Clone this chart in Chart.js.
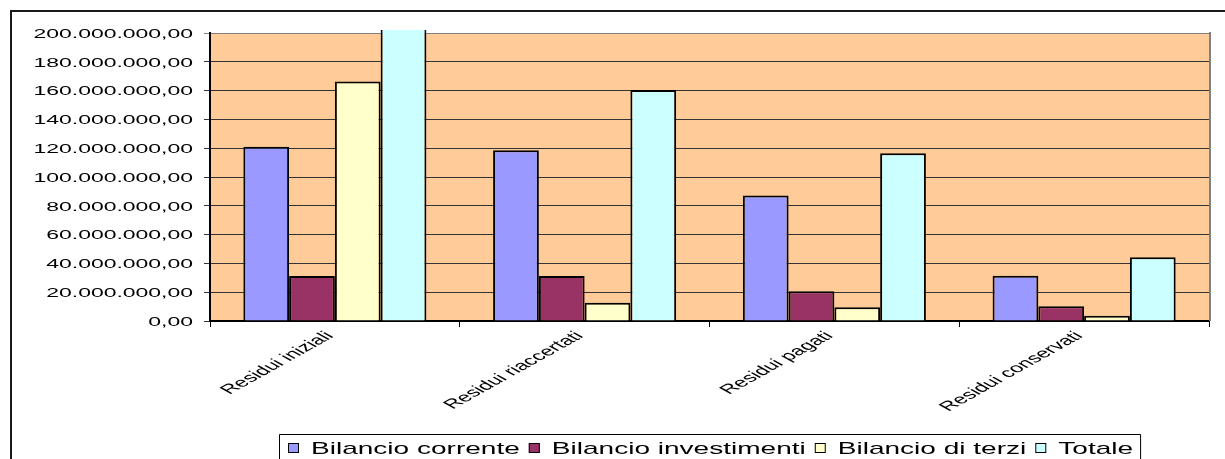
<!DOCTYPE html>
<html lang="it">
<head>
<meta charset="utf-8">
<title>Residui</title>
<script src="https://cdn.jsdelivr.net/npm/chart.js@4.4.1/dist/chart.umd.min.js"></script>
<style>
  html, body { margin: 0; padding: 0; background: #fff; }
  #wrap { position: relative; width: 1225px; height: 459px; overflow: hidden; }
  canvas { display: block; }
</style>
</head>
<body>
<div id="wrap"><canvas id="chart" width="1225" height="459"></canvas></div>
<script>
// Categories and series values
const categories = ['Residui iniziali', 'Residui riaccertati', 'Residui pagati', 'Residui conservati'];
const seriesNames = ['Bilancio corrente', 'Bilancio investimenti', 'Bilancio di terzi', 'Totale'];
const bilancioCorrente     = [121000000, 118600000,  87200000, 31500000];
const bilancioInvestimenti = [ 31300000,  31300000,  20600000, 10200000];
const bilancioTerzi        = [166300000,  12700000,   9500000,  3600000];
const totale               = [318600000, 160400000, 116500000, 44300000];
// Value axis ticks
const yTickValues = [0, 20000000, 40000000, 60000000, 80000000, 100000000,
                     120000000, 140000000, 160000000, 180000000, 200000000];

const seriesColors = ['#9999FF', '#993366', '#FFFFCC', '#CCFFFF'];
const FONT = '"Liberation Sans", Arial, sans-serif';
const SX = 1.7;       // horizontal text stretch
const SX_CAT = 1.8;   // stretch for the slanted category labels

function fmt(v) {
  const s = Math.round(v).toString().replace(/\B(?=(\d{3})+(?!\d))/g, '.');
  return s + ',00';
}

const decor = {
  id: 'decor',
  beforeDraw(chart) {
    const { ctx, chartArea: a } = chart;
    ctx.save();
    ctx.fillStyle = '#fff';
    ctx.fillRect(0, 0, chart.width, chart.height);
    // outer frame
    ctx.strokeStyle = '#1a1a1a';
    ctx.lineWidth = 2;
    ctx.beginPath();
    ctx.moveTo(11, chart.height + 5);
    ctx.lineTo(11, 11);
    ctx.lineTo(chart.width + 5, 11);
    ctx.stroke();
    // plot area
    ctx.fillStyle = '#FFCC99';
    ctx.fillRect(a.left, a.top, a.right - a.left, a.bottom - a.top);
    ctx.restore();
  },
  afterDraw(chart) {
    const { ctx, chartArea: a } = chart;
    const ys = chart.scales.y, xs = chart.scales.x;
    ctx.save();
    // right edge of plot area
    ctx.strokeStyle = '#808080';
    ctx.lineWidth = 2;
    ctx.beginPath();
    ctx.moveTo(a.right + 1, a.top - 1);
    ctx.lineTo(a.right + 1, a.bottom);
    ctx.stroke();

    ctx.fillStyle = '#000';
    // value axis labels
    ctx.font = '13.5px ' + FONT;
    ctx.textAlign = 'right';
    ctx.textBaseline = 'middle';
    ys.ticks.forEach(t => {
      const y = ys.getPixelForValue(t.value);
      ctx.save();
      ctx.translate(a.left - 17, y + 1);
      ctx.scale(SX, 1);
      ctx.fillText(fmt(t.value), 0, 0);
      ctx.restore();
    });
    // category labels
    ctx.font = '13px ' + FONT;
    categories.forEach((c, i) => {
      const x = xs.getPixelForValue(i);
      ctx.save();
      ctx.translate(x - 5, a.bottom + 13);
      ctx.scale(SX_CAT, 1);
      ctx.rotate(-Math.PI / 4);
      ctx.textAlign = 'right';
      ctx.textBaseline = 'middle';
      ctx.fillText(c, 0, 0);
      ctx.restore();
    });
    // legend
    ctx.font = '17px ' + FONT;
    ctx.textAlign = 'left';
    ctx.textBaseline = 'alphabetic';
    const boxL = 279, boxT = 434;
    let x = 288;
    const base = 454;
    chart.data.datasets.forEach((ds, i) => {
      ctx.fillStyle = ds.backgroundColor;
      ctx.fillRect(x, 443, 11, 10);
      ctx.strokeStyle = '#000';
      ctx.lineWidth = 1;
      ctx.strokeRect(x + 0.5, 443.5, 10, 9);
      x += 23;
      ctx.fillStyle = '#000';
      ctx.save();
      ctx.translate(x, base);
      ctx.scale(SX * 0.97, 1);
      ctx.fillText(ds.label, 0, 0);
      ctx.restore();
      x += ctx.measureText(ds.label).width * SX * 0.97 + 9;
    });
    const boxR = x - 2;
    ctx.strokeStyle = '#000';
    ctx.lineWidth = 1;
    ctx.beginPath();
    ctx.moveTo(boxL + 0.5, chart.height + 5);
    ctx.lineTo(boxL + 0.5, boxT + 0.5);
    ctx.lineTo(boxR + 0.5, boxT + 0.5);
    ctx.lineTo(boxR + 0.5, chart.height + 5);
    ctx.stroke();
    ctx.restore();
  }
};

const seriesData = [bilancioCorrente, bilancioInvestimenti, bilancioTerzi, totale];

new Chart(document.getElementById('chart'), {
  type: 'bar',
  data: {
    labels: categories,
    datasets: seriesNames.map((n, i) => ({
      label: n,
      data: seriesData[i],
      backgroundColor: seriesColors[i],
      borderColor: '#000',
      borderWidth: 2,
      categoryPercentage: 0.733,
      barPercentage: 1.0,
      clip: { left: 0, top: 3, right: 0, bottom: 0 }
    }))
  },
  options: {
    responsive: false,
    animation: false,
    devicePixelRatio: 1,
    layout: { padding: { left: 0, right: 16, top: 33, bottom: 0 } },
    plugins: { legend: { display: false }, tooltip: { enabled: false } },
    scales: {
      x: {
        offset: true,
        grid: { offset: true, drawOnChartArea: false, drawTicks: true, tickLength: 6, color: '#000', lineWidth: 1 },
        border: { display: true, color: '#000', width: 2 },
        ticks: { display: false },
        afterFit(scale) { scale.height = 138; }
      },
      y: {
        min: 0,
        max: 200000000,
        afterBuildTicks(scale) { scale.ticks = yTickValues.map(v => ({ value: v })); },
        grid: {
          drawTicks: true,
          tickLength: 6,
          lineWidth: 1,
          color: c => (c.tick && c.tick.value === 200000000) ? '#808080' : '#333'
        },
        border: { display: true, color: '#000', width: 2 },
        ticks: { display: false },
        afterFit(scale) { scale.width = 210; }
      }
    }
  },
  plugins: [decor]
});
</script>
</body>
</html>
